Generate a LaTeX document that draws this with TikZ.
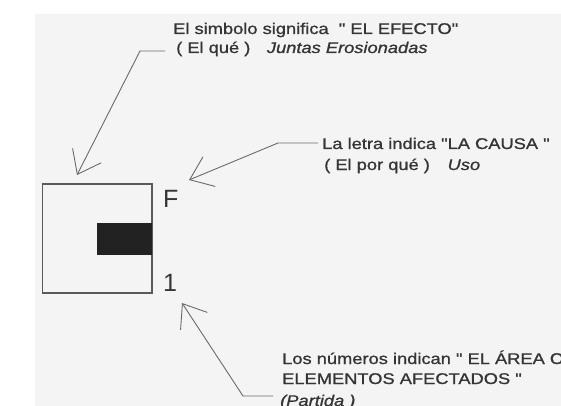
\documentclass[tikz,border=0pt]{standalone}
\usepackage{fontspec}
\setmainfont{Liberation Sans}
\newfontfamily\lbl[FakeBold=0.9]{Liberation Sans}
\usetikzlibrary{arrows.meta}
\definecolor{bg}{HTML}{F4F4F4}
\definecolor{ln}{HTML}{6A6A6A}
\definecolor{tx}{HTML}{353535}
\definecolor{bx}{HTML}{5A5A5A}
\definecolor{blk}{HTML}{222222}
\newcommand\widetxt[1]{\scalebox{1.18}[1]{#1}}
\begin{document}
\begin{tikzpicture}[x=1pt,y=-1pt,
  lbltext/.style={anchor=base west, inner sep=0pt, font=\lbl\fontsize{15.5}{18}\selectfont, text=tx},
  bigtext/.style={anchor=base west, inner sep=0pt, font=\fontsize{25}{30}\selectfont, text=tx},
  arr/.style={draw=ln, line width=0.9pt, line join=round, -{Straight Barb[length=21pt,width=32pt,line width=0.9pt]}},
  frame/.style={draw=bx, line width=1.4pt},
]
\useasboundingbox (0,0) rectangle (561,406);
\fill[white] (0,0) rectangle (561,406);
\fill[bg] (35,14) rectangle (561,406);
\begin{scope}
\clip (0,0) rectangle (561,406);
% symbol
\draw[frame] (42.7,184) rectangle (152,293);
\fill[blk] (97,223) rectangle (152,255);
\node[bigtext] (F) at (163,207) {F};
\node[bigtext] (one) at (163,291) {1};
% texts
\node[lbltext] (t1a) at (173,34) {\widetxt{El simbolo significa \ " EL EFECTO"}};
\node[lbltext] (t1b) at (176,53) {\widetxt{(\ El qué\ )\hspace{14pt}\textit{Juntas Erosionadas}}};
\node[lbltext] (t2a) at (322,149) {\widetxt{La letra indica "LA CAUSA "}};
\node[lbltext] (t2b) at (324,170) {\widetxt{(\ El por qué\ )\hspace{15pt}\textit{Uso}}};
\node[lbltext] (t3a) at (282,364) {\widetxt{Los números indican " EL ÁREA O}};
\node[lbltext] (t3b) at (282,384) {\widetxt{ELEMENTOS AFECTADOS "}};
\node[lbltext] (t3c) at (280,406) {\widetxt{\textit{(Partida )}}};
% connector ends, bends and tips
\coordinate (s1) at (165,51);
\coordinate (k1) at (140,51);
\coordinate (tip1) at (77,175);
\coordinate (s2) at (318,143);
\coordinate (k2) at (278,143);
\coordinate (tip2) at (189,180);
\coordinate (s3) at (273,396);
\coordinate (k3) at (243,396);
\coordinate (tip3) at (182,303);
\draw[arr] (s1) -- (k1) -- (tip1);
\draw[arr] (s2) -- (k2) -- (tip2);
\draw[arr] (s3) -- (k3) -- (tip3);
\end{scope}
\end{tikzpicture}
\end{document}
